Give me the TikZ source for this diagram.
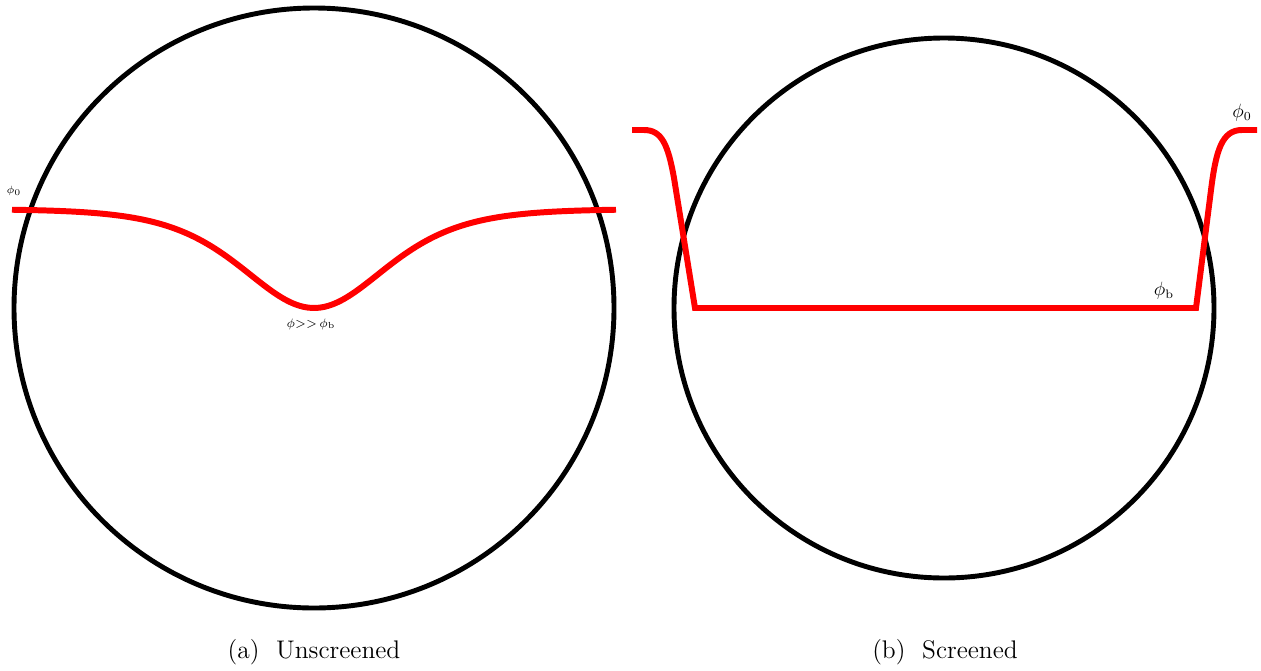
\documentclass[tikz,border=0pt]{standalone}
\usepackage{amsmath,amssymb}
\usepackage{xcolor}
\usepackage{tikz}
\tikzset{every picture/.append style={font=\footnotesize}}
\definecolor{figred}{HTML}{FF0000}
\tikzset{
  ball/.style={draw=black,line width=2.8pt},
  field/.style={draw=figred,line width=3.4pt,line join=miter},
  caption/.style={font=\fontsize{14.5}{16}\selectfont,inner sep=0pt}
}

\begin{document}
\begin{tikzpicture}[x=0.02cm,y=-0.02cm]
    \useasboundingbox (0,0) rectangle (1261,670);
    % (a) unscreened
    \draw[ball] (314,308) circle[radius=300];
    \draw[field] plot[domain=12:616,samples=150,smooth]
      (\x,{209+99*4/(exp((\x-314)/96)+exp(-(\x-314)/96))^2});
    \node[font=\fontsize{6.5}{7}\selectfont,inner sep=0pt] (phiZa) at (14,191) {$\phi_0$};
    \node[font=\fontsize{7}{8}\selectfont,inner sep=0pt] (phiMin) at (311,324) {$\phi{>}{>}\,\phi_{\mathrm{b}}$};
    \node[caption] (capA) at (314,652) {(a)~~Unscreened};
    % (b) screened
    \draw[ball] (944,308) circle[radius=270];
    \draw[field] (632,130) -- (644,130)
      .. controls (662,130) and (668,145) .. (674,178) -- (695,308)
      -- (1196,308) -- (1211,190)
      .. controls (1216,150) and (1222,130) .. (1242,130) -- (1257,130);
    \node[font=\fontsize{10.5}{12}\selectfont,inner sep=0pt] (phiB) at (1164,291) {$\phi_{\mathrm{b}}$};
    \node[font=\fontsize{10.5}{12}\selectfont,inner sep=0pt] (phiZb) at (1242,113) {$\phi_0$};
    \node[caption] (capB) at (945,652) {(b)~~Screened};
  \end{tikzpicture}
\end{document}
